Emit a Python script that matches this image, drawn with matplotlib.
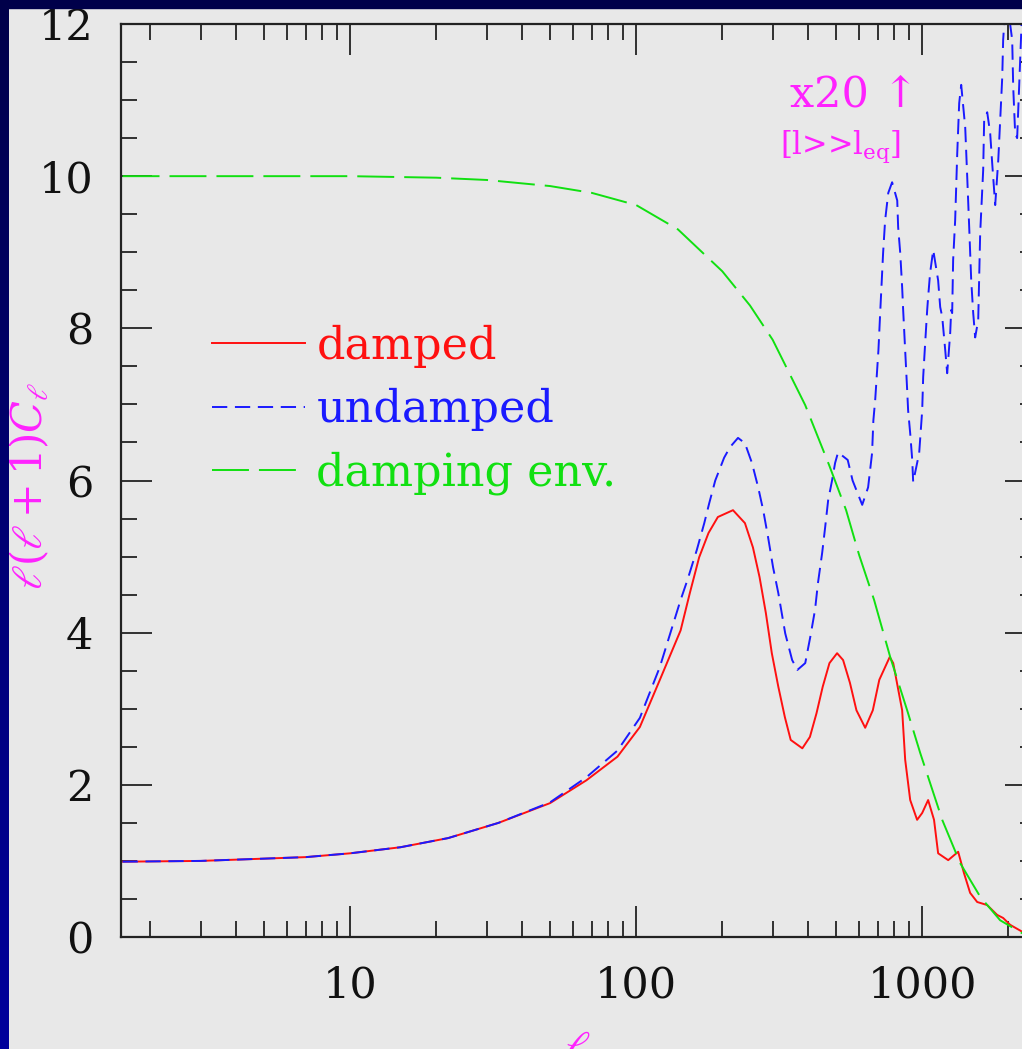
import matplotlib
matplotlib.use("Agg")
import matplotlib.pyplot as plt
import matplotlib.ticker as ticker
from matplotlib.patches import Rectangle
import numpy as np

plt.rcParams['font.family'] = ['DejaVu Serif', 'DejaVu Sans']
plt.rcParams['mathtext.fontset'] = 'dejavuserif'
plt.rcParams['lines.scale_dashes'] = False

# damped spectrum (red, solid)
l_damped = [1.6, 3, 5, 7, 10, 15, 22, 33, 50, 67, 86, 103, 121, 143, 154, 166, 179, 193, 218,
            240, 256, 270, 284, 298, 314, 331, 347, 381, 405, 427, 449, 474, 504, 529, 559,
            589, 632, 672, 708, 770, 792, 851, 872, 908, 960, 1000, 1049, 1100, 1137, 1233,
            1336, 1400, 1471, 1557, 1687, 1829, 1919, 2030, 2236, 2500]
c_damped = [0.99, 1.0, 1.03, 1.05, 1.1, 1.18, 1.3, 1.5, 1.76, 2.06, 2.37, 2.76, 3.38, 4.03, 4.52,
            4.99, 5.31, 5.52, 5.61, 5.44, 5.12, 4.73, 4.26, 3.73, 3.29, 2.89, 2.59, 2.48, 2.63,
            2.94, 3.29, 3.6, 3.73, 3.64, 3.34, 2.98, 2.75, 2.98, 3.38, 3.68, 3.6, 2.98, 2.33,
            1.8, 1.54, 1.63, 1.8, 1.54, 1.1, 1.01, 1.12, 0.84, 0.58, 0.46, 0.42, 0.29, 0.25,
            0.16, 0.07, 0.03]

# undamped spectrum (blue, short dashes)
l_undamped = [1.6, 3, 5, 7, 10, 15, 22, 33, 50, 67, 86, 103, 121, 143, 151, 163, 173, 180, 189,
              203, 213, 227, 240, 254, 267, 278, 289, 301, 314, 332, 351, 366, 390, 406, 422,
              432, 447, 458, 469, 484, 496, 508, 549, 571, 617, 647, 668, 675, 685, 703, 713,
              730, 742, 761, 785, 818, 824, 838, 851, 858, 872, 886, 893, 908, 923, 930, 976,
              1000, 1008, 1024, 1041, 1049, 1066, 1093, 1137, 1156, 1175, 1204, 1223, 1253,
              1263, 1273, 1283, 1304, 1326, 1347, 1369, 1414, 1437, 1460, 1484, 1508, 1532,
              1570, 1595, 1634, 1647, 1688, 1729, 1757, 1800, 1845, 1874, 1905, 1919, 1966,
              2064, 2081, 2114, 2148, 2236, 2383]
c_undamped = [0.99, 1.0, 1.03, 1.05, 1.1, 1.18, 1.3, 1.5, 1.77, 2.1, 2.45, 2.88, 3.55, 4.43,
              4.69, 5.09, 5.44, 5.7, 6.0, 6.3, 6.44, 6.56, 6.49, 6.23, 5.91, 5.61, 5.26, 4.86,
              4.52, 3.99, 3.64, 3.51, 3.6, 3.94, 4.3, 4.65, 5.05, 5.39, 5.74, 6.0, 6.23, 6.37,
              6.27, 6.0, 5.68, 5.91, 6.36, 6.79, 7.06, 7.71, 8.2, 8.99, 9.42, 9.78, 9.92, 9.68,
              9.33, 8.99, 8.54, 8.24, 7.71, 7.19, 6.92, 6.62, 6.27, 5.98, 6.36, 6.92, 7.36, 7.8,
              8.24, 8.41, 8.73, 9.03, 8.63, 8.28, 8.15, 7.71, 7.41, 7.94, 8.24, 8.2, 8.9, 9.42,
              10.3, 10.96, 11.2, 10.64, 9.99, 9.33, 8.63, 8.2, 7.88, 8.11, 9.25, 10.08, 10.74,
              10.84, 10.56, 10.17, 9.62, 10.21, 10.74, 11.3, 11.79, 12.4, 11.79, 11.17, 10.56,
              10.5, 12.2, 12.8]

# damping envelope (green, long dashes)
l_env = [1.6, 5, 10, 20, 30, 50, 70, 100, 140, 200, 250, 300, 390, 473, 542, 602, 679, 773,
         886, 984, 1175, 1358, 1595, 1873, 2236, 2500]
c_env = [10.0, 10.0, 10.0, 9.98, 9.95, 9.87, 9.78, 9.62, 9.3, 8.75, 8.3, 7.85, 6.99, 6.2, 5.61,
         5.02, 4.43, 3.68, 2.98, 2.42, 1.54, 0.97, 0.53, 0.22, 0.05, 0.02]

xticks = [10, 100, 1000]
xticklabels = ['10', '100', '1000']
yticks = [0, 2, 4, 6, 8, 10, 12]

W, H = 1022, 1049
fig = plt.figure(figsize=(W / 100, H / 100), dpi=100, facecolor='#e8e8e8')
ax = fig.add_axes([121 / W, 1 - 937 / H, 915 / W, 913 / H])
ax.set_facecolor('#e8e8e8')

ax.plot(l_damped, c_damped, color='#ff1010', lw=1.4, label='damped')
ax.plot(l_undamped, c_undamped, color='#1a1aff', lw=1.4, dashes=(11, 5.5), label='undamped')
ax.plot(l_env, c_env, color='#11e011', lw=1.4, dashes=(26.6, 7.2), label='damping env.')

ax.set_xscale('log')
ax.set_xlim(1.58, 2500)
ax.set_ylim(0, 12)
ax.set_xticks(xticks)
ax.set_xticklabels(xticklabels)
ax.xaxis.set_minor_locator(ticker.LogLocator(base=10, subs=np.arange(2, 10)))
ax.xaxis.set_minor_formatter(ticker.NullFormatter())
ax.set_yticks(yticks)
ax.yaxis.set_minor_locator(ticker.MultipleLocator(0.5))

ax.tick_params(which='both', direction='in', top=True, right=True, width=1.3,
               color='#222222', labelsize=31, pad=20, labelcolor='#111111')
ax.tick_params(which='major', length=22)
ax.tick_params(which='minor', length=11.5)
for sp in ax.spines.values():
    sp.set_linewidth(1.6)
    sp.set_color('#222222')

leg = ax.legend(loc='center left', bbox_to_anchor=(212 / W, 1 - 410 / H),
                bbox_transform=fig.transFigure, frameon=False, fontsize=32,
                handlelength=2.1, handletextpad=0.25, labelspacing=0.46,
                borderaxespad=0, borderpad=0)
for txt, line in zip(leg.get_texts(), leg.get_lines()):
    txt.set_color(line.get_color())

ax.text(790 / W, 1 - 95 / H, 'x20 \u2191', transform=fig.transFigure, color='#ff22ff',
        fontsize=31, ha='left', va='center')
ax.text(780 / W, 1 - 147 / H, r'[l>>l$_{\rm eq}$]', transform=fig.transFigure,
        color='#ff22ff', fontsize=22, ha='left', va='center')

fig.text(30 / W, 1 - 486 / H, r'$\ell(\ell+1)C_\ell$', color='#ff22ff', fontsize=30,
         rotation=90, ha='center', va='center')
fig.text(577 / W, 1 - 1028 / H, r'$\ell$', color='#ff22ff', fontsize=32,
         ha='center', va='top')

# slide border (dark blue)
fig.patches.append(Rectangle((0, 1 - 8 / H), 1, 8 / H, transform=fig.transFigure,
                             color='#00004a', zorder=10))
strip = fig.add_axes([0, 0, 9 / W, 1], zorder=10)
strip.imshow(np.linspace(0, 1, 256).reshape(-1, 1), aspect='auto',
             cmap=matplotlib.colors.LinearSegmentedColormap.from_list('edge', ['#00004a', '#00009c']))
strip.set_axis_off()

fig.savefig('out.png', dpi=100, facecolor=fig.get_facecolor())
